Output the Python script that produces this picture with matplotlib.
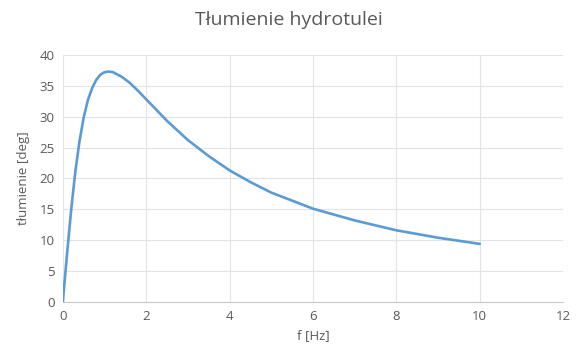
import matplotlib.pyplot as plt

# frequency [Hz] and damping [deg] of the hydro-bushing
f = [0, 0.05, 0.1, 0.2, 0.3, 0.4, 0.5, 0.6, 0.7, 0.8, 0.9, 1.0, 1.1, 1.2,
     1.4, 1.6, 1.8, 2.0, 2.5, 3.0, 3.5, 4.0, 4.5, 5.0, 6.0, 7.0, 8.0, 9.0, 10.0]
tlumienie = [0, 4.0, 7.8, 15.0, 21.2, 26.1, 29.9, 32.7, 34.6, 35.95, 36.8, 37.2,
             37.3, 37.2, 36.5, 35.5, 34.2, 32.8, 29.3, 26.2, 23.6, 21.3, 19.4,
             17.7, 15.1, 13.2, 11.6, 10.4, 9.4]

x_ticks = [0, 2, 4, 6, 8, 10, 12]
y_ticks = [0, 5, 10, 15, 20, 25, 30, 35, 40]

plt.rcParams['font.family'] = ['Open Sans', 'DejaVu Sans']
grey = '#595959'

fig = plt.figure(figsize=(5.77, 3.54), dpi=100)
ax = fig.add_axes([0.109, 0.147, 0.867, 0.698])

ax.plot(f, tlumienie, color='#5B9BD5', linewidth=1.9, solid_capstyle='round')

ax.set_xlim(0, 12)
ax.set_ylim(0, 40)
ax.set_xticks(x_ticks)
ax.set_yticks(y_ticks)
ax.grid(True, color='#E3E3E3', linewidth=0.8)
ax.set_axisbelow(True)

for side in ['top', 'right', 'left']:
    ax.spines[side].set_visible(False)
ax.spines['bottom'].set_color('#C8C8C8')
ax.tick_params(length=0, labelsize=9.5, labelcolor=grey, pad=6)

ax.set_xlabel('f [Hz]', fontsize=9.5, color=grey, labelpad=4)
ax.set_ylabel('tłumienie [deg]', fontsize=9.5, color=grey, labelpad=7)
fig.suptitle('Tłumienie hydrotulei', fontsize=14, color=grey, y=0.97)

fig.savefig('out.png', dpi=100)
